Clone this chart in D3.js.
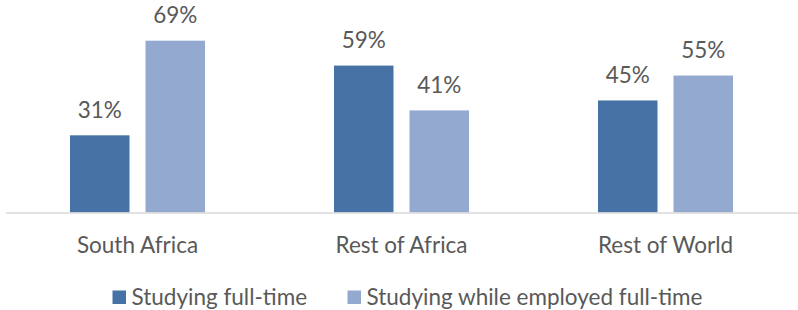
<!DOCTYPE html>
<html>
<head>
<meta charset="utf-8">
<script src="https://cdn.jsdelivr.net/npm/d3@7"></script>
<style>
  body { margin: 0; background: #fff; }
  text { font-family: Lato, "Open Sans", sans-serif; fill: #595959; }
</style>
</head>
<body>
<script>
const categories = ["South Africa", "Rest of Africa", "Rest of World"]
const seriesNames = ["Studying full-time", "Studying while employed full-time"]
const fullTime = [31, 59, 45]
const employed = [69, 41, 55]
const colors = ["#4672a5", "#94a9cf"]

const width = 798
const height = 310
const fontSize = 22.5

const svg = d3.select('body').append('svg')
    .attr('width', width)
    .attr('height', height)

const x0 = d3.scaleBand()
    .domain(categories)
    .range([5.5, 797.5])

const x1 = d3.scaleBand()
    .domain(seriesNames)
    .range([64.5, 199.5])
    .paddingInner(0.212)

const y = d3.scaleLinear()
    .domain([0, 80])
    .range([212.5, 13.3])

const rows = categories.map((c, i) => ({
    cat: c,
    vals: [fullTime[i], employed[i]].map((v, j) => ({ key: seriesNames[j], v, j }))
}))

const groups = svg.selectAll('g.cat')
    .data(rows)
    .enter()
    .append('g')
    .attr('class', 'cat')
    .attr('transform', d => `translate(${x0(d.cat)},0)`)

groups.selectAll('rect')
    .data(d => d.vals)
    .enter()
    .append('rect')
    .attr('x', d => x1(d.key))
    .attr('y', d => y(d.v))
    .attr('width', x1.bandwidth())
    .attr('height', d => y(0) - y(d.v))
    .attr('fill', d => colors[d.j])

groups.selectAll('text.val')
    .data(d => d.vals)
    .enter()
    .append('text')
    .attr('class', 'val')
    .attr('x', d => x1(d.key) + x1.bandwidth() / 2)
    .attr('y', d => y(d.v) - 17.5)
    .attr('text-anchor', 'middle')
    .style('font-size', fontSize + 'px')
    .text(d => d.v + '%')

// axis line + category labels
const xAxis = svg.append('g')
    .attr('transform', `translate(0,${y(0)})`)
    .call(d3.axisBottom(x0).tickSize(0).tickPadding(0))
xAxis.select('.domain').attr('stroke', '#d9d9d9').attr('stroke-width', 1.5)
xAxis.selectAll('text')
    .attr('dy', 0)
    .attr('y', 40.2)
    .style('font-size', fontSize + 'px')
    .style('font-family', 'Lato, "Open Sans", sans-serif')
    .attr('fill', '#595959')

// legend
const legendX = [112.5, 347.5]
const legend = svg.selectAll('g.legend')
    .data(seriesNames)
    .enter()
    .append('g')
    .attr('class', 'legend')
    .attr('transform', (d, i) => `translate(${legendX[i]},0)`)
legend.append('rect')
    .attr('x', 0)
    .attr('y', 290.5)
    .attr('width', 13.5)
    .attr('height', 13.5)
    .attr('fill', (d, i) => colors[i])
legend.append('text')
    .attr('x', 19)
    .attr('y', 304.5)
    .style('font-size', fontSize + 'px')
    .text(d => d)
</script>
</body>
</html>
